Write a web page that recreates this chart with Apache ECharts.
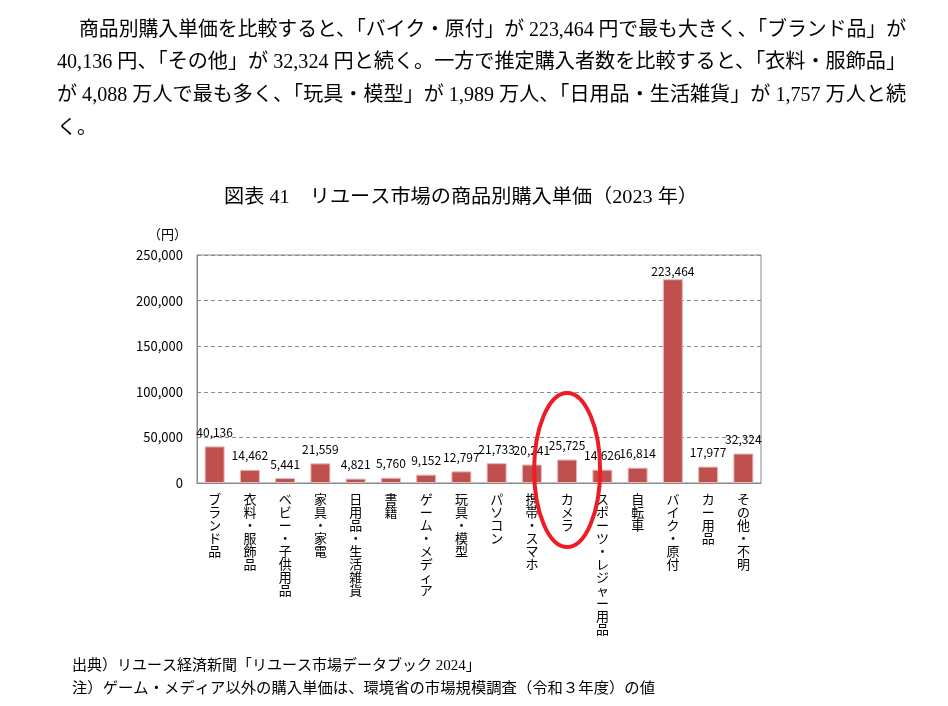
<!DOCTYPE html>
<html><head><meta charset="utf-8">
<script src="https://cdn.jsdelivr.net/npm/echarts@6/dist/echarts.min.js"></script>
<style>html,body{margin:0;padding:0;background:#fff}#c{width:948px;height:706px}</style>
</head><body><div id="c"></div>
<script>
const categories = ["ブランド品","衣料・服飾品","ベビー・子供用品","家具・家電","日用品・生活雑貨","書籍","ゲーム・メディア","玩具・模型","パソコン","携帯・スマホ","カメラ","スポーツ・レジャー用品","自転車","バイク・原付","カー用品","その他・不明"];
const values = [40136,14462,5441,21559,4821,5760,9152,12797,21733,20241,25725,14626,16814,223464,17977,32324];
const yMin = 0, yMax = 250000, yInterval = 50000;
const yUnit = "（円）";
const titleText = "図表 41　リユース市場の商品別購入単価（2023 年）";
const paragraph = [
  "商品別購入単価を比較すると、「バイク・原付」が 223,464 円で最も大きく、「ブランド品」が",
  "40,136 円、「その他」が 32,324 円と続く。一方で推定購入者数を比較すると、「衣料・服飾品」",
  "が 4,088 万人で最も多く、「玩具・模型」が 1,989 万人、「日用品・生活雑貨」が 1,757 万人と続",
  "く。"
];
const notes = [
  "出典）リユース経済新聞「リユース市場データブック 2024」",
  "注）ゲーム・メディア以外の購入単価は、環境省の市場規模調査（令和３年度）の値"
];
const highlightCategory = "カメラ";

const serif = '"Liberation Serif","Noto Sans CJK JP"';
const sans = '"Noto Sans CJK JP","Noto Sans"';
const mctx = document.createElement('canvas').getContext('2d');
function fitText(text, x, y, size, targetRight, family) {
  mctx.font = size + 'px ' + family;
  const w = mctx.measureText(text).width;
  const s = targetRight ? (targetRight - x) / w : 1;
  return {type:'text', x:x, y:y, scaleX:s, style:{text:text, fontSize:size, fontFamily:family, fill:'#000', verticalAlign:'middle'}};
}
const texts = [
  fitText(paragraph[0], 79, 31, 20, 906, serif),
  fitText(paragraph[1], 57, 63, 20, 906, serif),
  fitText(paragraph[2], 57, 96, 20, 906, serif),
  fitText(paragraph[3], 57, 129, 20, null, serif),
  fitText(titleText, 224, 198, 19, 698, serif),
  fitText(notes[0], 72, 666, 15, null, serif),
  fitText(notes[1], 72, 689, 15, 655, serif)
];

const chart = echarts.init(document.getElementById('c'));
chart.setOption({
  animation:false,
  backgroundColor:'#fff',
  textStyle:{fontFamily:sans},
  grid:{left:197, right:187, top:255, bottom:223, show:true, borderColor:'#898989', borderWidth:1, containLabel:false},
  xAxis:{type:'category', data:categories,
    axisLine:{lineStyle:{color:'#898989'}}, axisTick:{show:false},
    axisLabel:{interval:0, color:'#000', fontSize:13, lineHeight:13, margin:10, verticalAlign:'top', fontFamily:sans,
      formatter:function(v){return v.split('').join('\n');}}},
  yAxis:{type:'value', min:yMin, max:yMax, interval:yInterval,
    name:yUnit, nameLocation:'end', nameGap:14, nameTextStyle:{color:'#000', fontSize:13, align:'right', padding:[0,10,0,0]},
    axisLine:{show:true, lineStyle:{color:'#898989'}}, axisTick:{show:false},
    splitLine:{lineStyle:{color:'#898989', type:[4,3]}},
    axisLabel:{color:'#000', fontSize:13, margin:14, formatter:function(v){return v.toLocaleString('en-US');}}},
  series:[{type:'bar', data:values.map(function(v){return v===Math.max.apply(null,values)?{value:v,label:{distance:2}}:v;}),
    barWidth:20,
    itemStyle:{color:'#C0504D', borderColor:'#E6B9B8', borderWidth:1},
    label:{show:true, position:'top', distance:8, color:'#000', fontSize:12, fontFamily:sans,
      formatter:function(p){return p.value.toLocaleString('en-US');}}}],
  graphic:texts
});
const p0 = chart.convertToPixel({gridIndex:0}, [highlightCategory, 0]);
chart.setOption({graphic:texts.concat([{type:'ellipse', z:100, shape:{cx:p0[0], cy:p0[1]-13, rx:33, ry:77},
  style:{fill:'none', stroke:'#EE1C24', lineWidth:4}}])});
</script></body></html>
